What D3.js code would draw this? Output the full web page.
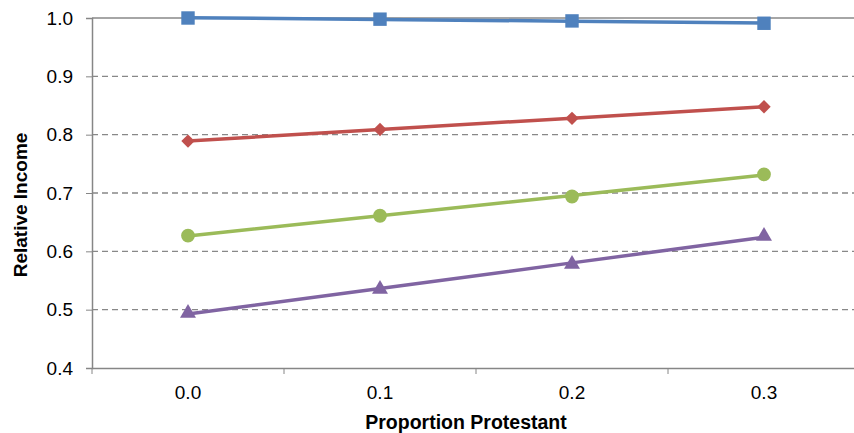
<!DOCTYPE html>
<meta charset="utf-8">
<script src="https://d3js.org/d3.v7.min.js"></script>
<html>
<style>
body { margin: 0; background: #fff; }
text { font-family: "Liberation Sans", Arial, sans-serif; fill: #000; }
</style>
<body>
<svg id="chart" width="854" height="433"></svg>
<script>

// categories and series values
var categories = ["0.0", "0.1", "0.2", "0.3"];
var xValues = [0.0, 0.1, 0.2, 0.3];
var blueValues = [1.000, 0.998, 0.995, 0.991];
var redValues = [0.789, 0.809, 0.828, 0.848];
var greenValues = [0.627, 0.661, 0.694, 0.732];
var purpleValues = [0.494, 0.535, 0.578, 0.626];
var yTicks = [0.4, 0.5, 0.6, 0.7, 0.8, 0.9, 1.0];

var series = [
  {name: "blue", values: blueValues, color: "#4F81BD", symbol: d3.symbolSquare, size: 180, rot: 0},
  {name: "red", values: redValues, color: "#C0504D", symbol: d3.symbolSquare, size: 90, rot: 45},
  {name: "green", values: greenValues, color: "#9BBB59", symbol: d3.symbolCircle, size: 150, rot: 0},
  {name: "purple", values: purpleValues, color: "#8064A2", symbol: d3.symbolTriangle, size: 110, rot: 0}
];

var svg = d3.select("#chart");
var mLeft = 92, mRight = 860, mTop = 18, mBottom = 368;

var x = d3.scaleBand().domain(categories).range([mLeft, mRight]);
var y = d3.scaleLinear().domain([0.4, 1.0]).range([mBottom, mTop]);

// gridlines
svg.append("g")
  .selectAll("line")
  .data(yTicks.filter(function(d) { return d > 0.4; }))
  .enter().append("line")
    .attr("x1", mLeft).attr("x2", 854)
    .attr("y1", function(d) { return y(d); })
    .attr("y2", function(d) { return y(d); })
    .attr("stroke", "#888")
    .attr("stroke-width", 1.3)
    .attr("stroke-dasharray", function(d) { return d == 1.0 ? null : "6,4"; });

// y axis
var yAxis = d3.axisLeft(y).tickValues(yTicks).tickFormat(d3.format(".1f")).tickSize(6).tickPadding(13);
var gy = svg.append("g").attr("transform", "translate(" + mLeft + ",0)").call(yAxis);
gy.select(".domain").attr("stroke", "#868686").attr("stroke-width", 1.5);
gy.selectAll(".tick line").attr("stroke", "#868686");
gy.selectAll("text").style("font-size", "19px").attr("font-family", null).attr("fill", "#000");

// x axis with ticks between categories
var xAxis = d3.axisBottom(x).tickSize(0).tickPadding(18);
var gx = svg.append("g").attr("transform", "translate(0," + mBottom + ")").call(xAxis);
gx.select(".domain").attr("stroke", "#868686").attr("stroke-width", 1.5);
gx.selectAll("text").style("font-size", "19px").attr("font-family", null).attr("fill", "#000");
gx.selectAll(".bound")
  .data(categories)
  .enter().append("line")
    .attr("x1", function(d) { return x(d); })
    .attr("x2", function(d) { return x(d); })
    .attr("y1", 0).attr("y2", 6)
    .attr("stroke", "#868686");

// axis titles
svg.append("text")
  .attr("x", 466).attr("y", 429)
  .attr("text-anchor", "middle")
  .style("font-size", "19.5px").style("font-weight", "bold")
  .text("Proportion Protestant");
svg.append("text")
  .attr("transform", "translate(27,205) rotate(-90)")
  .attr("text-anchor", "middle")
  .style("font-size", "19px").style("font-weight", "bold")
  .text("Relative Income");

// linear trend from the points
function fit(vals) {
  var mx = d3.mean(xValues), my = d3.mean(vals);
  var num = d3.sum(xValues, function(v, i) { return (v - mx) * (vals[i] - my); });
  var den = d3.sum(xValues, function(v) { return (v - mx) * (v - mx); });
  var b = num / den;
  return xValues.map(function(v) { return my + b * (v - mx); });
}

var cx = function(i) { return x(categories[i]) + x.bandwidth() / 2; };

series.forEach(function(s) {
  var trend = fit(s.values);
  svg.append("path")
    .datum(trend)
    .attr("fill", "none")
    .attr("stroke", s.color)
    .attr("stroke-width", 3.5)
    .attr("d", d3.line().x(function(d, i) { return cx(i); }).y(function(d) { return y(d); }));

  svg.append("g")
    .selectAll("path")
    .data(s.values)
    .enter().append("path")
      .attr("transform", function(d, i) { return "translate(" + cx(i) + "," + y(d) + ") rotate(" + s.rot + ")"; })
      .attr("d", d3.symbol().type(s.symbol).size(s.size))
      .attr("fill", s.color);
});

</script>
</body>
</html>
